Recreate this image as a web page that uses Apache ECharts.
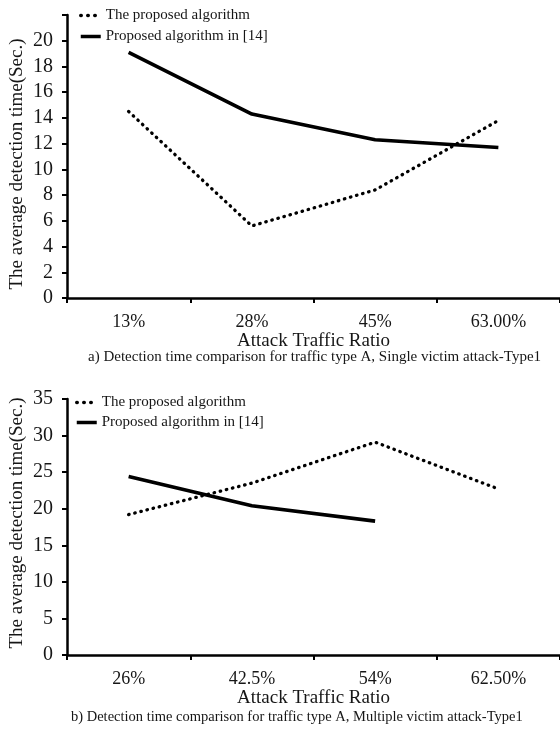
<!DOCTYPE html>
<html>
<head>
<meta charset="utf-8">
<script src="https://cdn.jsdelivr.net/npm/echarts@6/dist/echarts.min.js"></script>
<style>
html,body{margin:0;padding:0;background:#fff;}
#c{width:560px;height:729px;}
</style>
</head>
<body>
<div id="c"></div>
<script>
const seriesNames = ['The proposed algorithm', 'Proposed algorithm in [14]'];
const catsA = ['13%', '28%', '45%', '63.00%'];
const proposedA = [14.5, 5.6, 8.4, 13.8];
const ref14A = [19.1, 14.3, 12.3, 11.7];
const catsB = ['26%', '42.5%', '54%', '62.50%'];
const proposedB = [19.2, 23.5, 29.1, 22.7];
const ref14B = [24.4, 20.4, 18.3, null];
const yAxisName = 'The average detection time(Sec.)';
const xAxisName = 'Attack Traffic Ratio';
const captionA = 'a) Detection time comparison for traffic type A, Single victim attack-Type1';
const captionB = 'b) Detection time comparison for traffic type A, Multiple victim attack-Type1';

const FONT = "'Liberation Serif', 'Times New Roman', serif";
const TXT = '#161616';
const axisLineStyle = {color: '#000', width: 2.5};

function xAxis(idx, cats) {
  return {
    type: 'category', gridIndex: idx, data: cats, boundaryGap: true,
    axisLine: {lineStyle: axisLineStyle},
    axisTick: {show: true, length: 5, lineStyle: {color: '#000', width: 2}},
    axisLabel: {color: TXT, fontFamily: FONT, fontSize: 18, margin: 15},
    name: xAxisName, nameLocation: 'middle', nameGap: 33,
    nameTextStyle: {color: TXT, fontFamily: FONT, fontSize: 19},
    splitLine: {show: false}
  };
}
function yAxis(idx, max, interval, hideTop) {
  return {
    type: 'value', gridIndex: idx, min: 0, max: max, interval: interval,
    axisLine: {show: true, lineStyle: axisLineStyle},
    axisTick: {show: true, length: 5, lineStyle: {color: '#000', width: 2}},
    axisLabel: {color: TXT, fontFamily: FONT, fontSize: 20, margin: 14,
      formatter: v => (hideTop && v === max) ? '' : String(v)},
    splitLine: {show: false}
  };
}
const dotted = {color: '#000', width: 3.3, type: [0.5, 5.8], cap: 'round'};
const solid = {color: '#000', width: 3.6, type: 'solid'};
function ser(name, idx, data, ls) {
  return {
    name: name, type: 'line', xAxisIndex: idx, yAxisIndex: idx, data: data,
    symbol: 'none', lineStyle: ls, itemStyle: {color: '#000'},
    connectNulls: false, animation: false, silent: true
  };
}
function legend(left, top, gap) {
  return {
    orient: 'vertical', left: left, top: top, padding: 0,
    itemWidth: 20, itemHeight: 14, itemGap: gap,
    itemStyle: {opacity: 0},
    textStyle: {color: TXT, fontFamily: FONT, fontSize: 15},
    data: [
      {name: seriesNames[0], lineStyle: {width: 3.5, type: [0.5, 6.5], cap: 'round', color: '#000'}},
      {name: seriesNames[1], lineStyle: {width: 3.5, type: 'solid', color: '#000'}}
    ]
  };
}
function vText(x, y, text) {
  return {type: 'text', x: x, y: y, rotation: Math.PI / 2,
    style: {text: text, fill: TXT, font: '19px ' + FONT, textAlign: 'center', textVerticalAlign: 'middle'}};
}

const chart = echarts.init(document.getElementById('c'), null, {renderer: 'canvas'});
chart.setOption({
  backgroundColor: '#fff',
  animation: false,
  grid: [
    {left: 67, right: -3, top: 15, height: 283},
    {left: 67, right: -3, top: 399, height: 256}
  ],
  xAxis: [xAxis(0, catsA), xAxis(1, catsB)],
  yAxis: [yAxis(0, 22, 2, true), yAxis(1, 35, 5, false)],
  legend: [legend(79, 8, 6), legend(75, 395, 5)],
  series: [
    ser(seriesNames[0], 0, proposedA, dotted),
    ser(seriesNames[1], 0, ref14A, solid),
    ser(seriesNames[0], 1, proposedB, dotted),
    ser(seriesNames[1], 1, ref14B, solid)
  ],
  graphic: [
    vText(17, 164, yAxisName),
    vText(17, 523, yAxisName),
    {type: 'text', left: 88, top: 350, style: {text: captionA, fill: TXT, font: '15px ' + FONT}},
    {type: 'text', left: 71, top: 710, style: {text: captionB, fill: TXT, font: '14.5px ' + FONT}}
  ]
});
</script>
</body>
</html>
